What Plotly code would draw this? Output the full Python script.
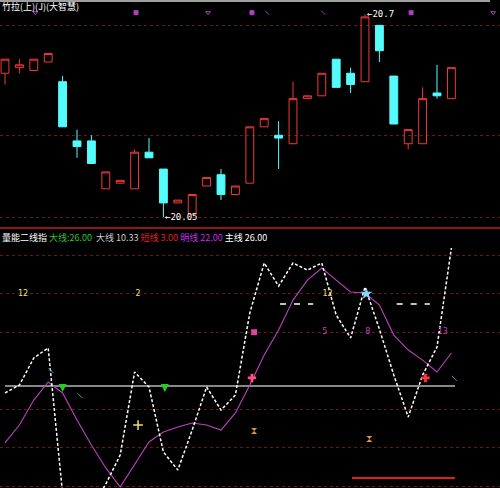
import plotly.graph_objects as go

# ---------------- data ----------------
idx = list(range(32))
opens  = [20.56, 20.58, 20.57, 20.60, 20.53, 20.32, 20.32, 20.15, 20.17, 20.15, 20.28, 20.22,
          20.10, 20.06, 20.16, 20.20, 20.13, 20.17, 20.37, 20.34, 20.31, 20.47, 20.48, 20.61,
          20.56, 20.53, 20.73, 20.55, 20.31, 20.31, 20.49, 20.47]
highs  = [20.61, 20.61, 20.61, 20.63, 20.55, 20.36, 20.34, 20.21, 20.18, 20.29, 20.33, 20.22,
          20.11, 20.13, 20.19, 20.22, 20.16, 20.37, 20.40, 20.39, 20.53, 20.48, 20.56, 20.61,
          20.58, 20.77, 20.73, 20.55, 20.36, 20.51, 20.59, 20.58]
lows   = [20.52, 20.56, 20.57, 20.60, 20.37, 20.26, 20.24, 20.15, 20.17, 20.15, 20.26, 20.05,
          20.10, 20.06, 20.16, 20.11, 20.13, 20.17, 20.37, 20.22, 20.31, 20.47, 20.48, 20.51,
          20.49, 20.53, 20.60, 20.38, 20.29, 20.31, 20.47, 20.47]
closes = [20.61, 20.59, 20.61, 20.63, 20.37, 20.30, 20.24, 20.21, 20.18, 20.28, 20.26, 20.10,
          20.11, 20.13, 20.19, 20.13, 20.16, 20.37, 20.40, 20.33, 20.47, 20.48, 20.56, 20.51,
          20.52, 20.76, 20.64, 20.38, 20.36, 20.47, 20.48, 20.58]

# indicator lines (lower panel)
line_k = [48.4, 52.5, 66.6, 71.8, -4, -20, -12, 1, 16.1, 59.3, 51.5, 17.7,
          8.3, 29.1, 51.5, 39.5, 47.3, 90.0, 116.0, 104.0, 116.0, 112.3, 116.0, 88.9,
          77.0, 103.5, 81.6, 57.7, 35.9, 57.7, 72.3, 123.8]
line_d = [22.4, 31.7, 44.7, 54.1, 48.4, 34.3, 21.3, 9.4, -0.5, 10.9, 22.9, 28.1,
          30.7, 32.8, 31.7, 29.1, 38.0, 52.5, 68.1, 81.1, 96.7, 107.1, 113.4, 107.1,
          100.9, 100.4, 94.1, 78.5, 70.7, 65.5, 59.3, 69.2]

top_sig_x = [2.1, 9.1, 14.1, 17.15, 18.2, 22.1, 28.2, 33.9]
top_sig_sym = ["triangle-down-open", "square", "triangle-down-open", "square", "line-nw",
               "line-nw", "square", "triangle-down-open"]
top_sig_y = 20.775

level_grey = 52
level_red = 4.2
red_seg_x = [24.1, 31.25]
grey_seg_x = [0.0, 31.25]
dash_seg1_x = [19.1, 21.4]
dash_seg2_x = [27.2, 29.5]
dash_level = 94.6

yellow_txt_x = [1.25, 9.24, 22.4]
yellow_txt = ["12", "2", "12"]
mag_txt_x = [22.2, 25.2, 30.4]
mag_txt = ["5", "8", "13"]
green_arrow_x = [4.0, 11.1]
green_arrow_y = 48.9
cyan_tick_x = [3.2, 5.2, 31.2]
cyan_tick_y = [60.0, 47.0, 56.0]

hi_label = "←20.7"
lo_label = "←20.05"

fig = go.Figure()

fig.add_trace(go.Candlestick(
    x=idx, open=opens, high=highs, low=lows, close=closes,
    increasing=dict(line=dict(color="#f03838", width=1), fillcolor="rgba(0,0,0,0)"),
    decreasing=dict(line=dict(color="#54fcfc", width=1), fillcolor="#54fcfc"),
    whiskerwidth=0, xaxis="x", yaxis="y", showlegend=False, hoverinfo="skip"))

fig.add_trace(go.Scatter(
    x=top_sig_x, y=[top_sig_y] * len(top_sig_x), mode="markers",
    marker=dict(symbol=top_sig_sym, size=4, color="#b040c0",
                line=dict(color="#b040c0", width=1)),
    xaxis="x", yaxis="y", showlegend=False, hoverinfo="skip"))

# lower panel
fig.add_trace(go.Scatter(x=grey_seg_x, y=[level_grey, level_grey], mode="lines",
                         line=dict(color="#b4b4b4", width=1.5),
                         xaxis="x2", yaxis="y2", showlegend=False, hoverinfo="skip"))
fig.add_trace(go.Scatter(x=red_seg_x, y=[level_red, level_red], mode="lines",
                         line=dict(color="#e02020", width=2),
                         xaxis="x2", yaxis="y2", showlegend=False, hoverinfo="skip"))
for seg in (dash_seg1_x, dash_seg2_x):
    fig.add_trace(go.Scatter(x=seg, y=[dash_level, dash_level], mode="lines",
                             line=dict(color="white", width=1.5, dash="6px,8px"),
                             xaxis="x2", yaxis="y2", showlegend=False, hoverinfo="skip"))

fig.add_trace(go.Scatter(x=idx, y=line_d, mode="lines",
                         line=dict(color="#c040c0", width=1.1),
                         xaxis="x2", yaxis="y2", showlegend=False, hoverinfo="skip"))
fig.add_trace(go.Scatter(x=idx, y=line_k, mode="lines",
                         line=dict(color="white", width=1.5, dash="3px,2px"),
                         xaxis="x2", yaxis="y2", showlegend=False, hoverinfo="skip"))

fig.add_trace(go.Scatter(x=cyan_tick_x, y=cyan_tick_y, mode="markers",
                         marker=dict(symbol="line-nw", size=5, color="#3ca0b0",
                                     line=dict(color="#3ca0b0", width=1)),
                         xaxis="x2", yaxis="y2", showlegend=False, hoverinfo="skip"))
fig.add_trace(go.Scatter(x=yellow_txt_x, y=[100] * 3, mode="text", text=yellow_txt,
                         textfont=dict(color="#f0e060", size=8, family="DejaVu Sans"),
                         xaxis="x2", yaxis="y2", showlegend=False, hoverinfo="skip"))
fig.add_trace(go.Scatter(x=mag_txt_x, y=[80] * 3, mode="text", text=mag_txt,
                         textfont=dict(color="#c040c0", size=8, family="DejaVu Sans"),
                         xaxis="x2", yaxis="y2", showlegend=False, hoverinfo="skip"))
fig.add_trace(go.Scatter(x=[17.3], y=[80], mode="markers",
                         marker=dict(symbol="square", size=6, color="#e040a0"),
                         xaxis="x2", yaxis="y2", showlegend=False, hoverinfo="skip"))
fig.add_trace(go.Scatter(x=green_arrow_x, y=[green_arrow_y] * 2, mode="markers",
                         marker=dict(symbol="arrow-down", size=8, color="#20d020"),
                         xaxis="x2", yaxis="y2", showlegend=False, hoverinfo="skip"))
fig.add_trace(go.Scatter(x=[25.1], y=[100], mode="markers",
                         marker=dict(symbol="star", size=9, color="#80d8ff"),
                         xaxis="x2", yaxis="y2", showlegend=False, hoverinfo="skip"))
fig.add_trace(go.Scatter(x=[9.24], y=[31.7], mode="markers",
                         marker=dict(symbol="cross-thin", size=7, color="#f0e060",
                                     line=dict(color="#f0e060", width=1.5)),
                         xaxis="x2", yaxis="y2", showlegend=False, hoverinfo="skip"))
fig.add_trace(go.Scatter(x=[17.15, 29.2], y=[56.2, 56.2], mode="markers",
                         marker=dict(symbol="cross", size=7, color=["#ff5080", "#ff3040"]),
                         xaxis="x2", yaxis="y2", showlegend=False, hoverinfo="skip"))
fig.add_trace(go.Scatter(x=[17.3, 25.3], y=[28.6, 24.4], mode="markers",
                         marker=dict(symbol="hourglass", size=6, color="#e09040"),
                         xaxis="x2", yaxis="y2", showlegend=False, hoverinfo="skip"))

# price labels
fig.add_annotation(x=25, y=20.77, xref="x", yref="y", text=hi_label, showarrow=False,
                   xanchor="left", yanchor="middle",
                   font=dict(color="white", size=9, family="DejaVu Sans Mono"))
fig.add_annotation(x=11, y=20.05, xref="x", yref="y", text=lo_label, showarrow=False,
                   xanchor="left", yanchor="middle",
                   font=dict(color="white", size=9, family="DejaVu Sans Mono"))

# title and header
fig.add_annotation(x=0, y=1, xref="paper", yref="paper", text="竹拉(上)(J)(大智慧)",
                   showarrow=False, xanchor="left", yanchor="top", yshift=2,
                   font=dict(color="white", size=9, family="Noto Sans CJK SC"))
hdr = ("量能二线指 <span style='color:#30c030'>大线:26.00</span>"
       "  <span style='color:#c8c8c8'>大线 10.33</span>"
       " <span style='color:#e02020'>短线 3.00</span>"
       " <span style='color:#c030e0'>明线 22.00</span>"
       " <span style='color:white'>主线 26.00</span>")
fig.add_annotation(x=0, y=0.532, xref="paper", yref="paper", text=hdr,
                   showarrow=False, xanchor="left", yanchor="top", yshift=-1,
                   font=dict(color="white", size=9, family="Noto Sans CJK SC"))

# separator and top border
fig.add_shape(type="line", xref="paper", yref="paper", x0=0, x1=1, y0=0.5328, y1=0.5328,
              line=dict(color="#c02020", width=1.5))
fig.add_shape(type="line", xref="paper", yref="paper", x0=0, x1=0.98, y0=0.998, y1=0.998,
              line=dict(color="#a0a0a0", width=2))

xr = [-0.347, 34.375]
fig.update_layout(
    width=500, height=488, margin=dict(l=0, r=0, t=0, b=0),
    paper_bgcolor="black", plot_bgcolor="black", showlegend=False, boxgap=0.22,
    xaxis=dict(domain=[0, 1], range=xr, visible=False, rangeslider=dict(visible=False),
               anchor="y"),
    yaxis=dict(domain=[0.5328, 1], range=[20.011, 20.82], showticklabels=False,
               ticks="", tickvals=[20.73, 20.34, 20.05], showgrid=True,
               gridcolor="#6a1818", griddash="dot", gridwidth=1, zeroline=False,
               showline=False),
    xaxis2=dict(domain=[0, 1], range=xr, visible=False, anchor="y2"),
    yaxis2=dict(domain=[0, 0.5328], range=[-1.04, 134.2], showticklabels=False,
                ticks="", tickvals=[0, 20, 40, 80, 100, 120], showgrid=True,
                gridcolor="#6a1818", griddash="dot", gridwidth=1, zeroline=False,
                showline=False),
)

fig.write_html("out.html", config={"displayModeBar": False},
               post_script="document.body.style.margin='0';document.body.style.background='black';document.body.style.overflow='hidden';")
